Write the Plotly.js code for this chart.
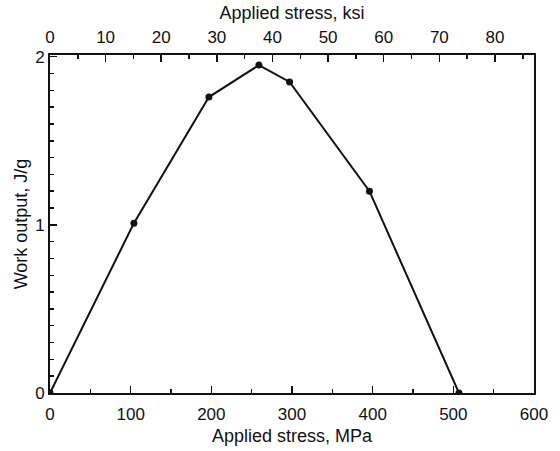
<!DOCTYPE html>
<html>
<head>
<meta charset="utf-8">
<script src="https://cdn.plot.ly/plotly-3.0.1.min.js"></script>
<style>html,body{margin:0;padding:0;background:#fff;}#chart{width:560px;height:451px;}</style>
</head>
<body>
<div id="chart"></div>
<script>
// Data
var stressMPa = [0, 104, 197, 259, 297, 396, 507];
var workJg = [0, 1.01, 1.76, 1.95, 1.85, 1.20, 0];
var MPA_PER_KSI = 6.895;
var mpaRange = [0, 600];
var ksiTicks = [0, 10, 20, 30, 40, 50, 60, 70, 80];
var mpaTicks = [0, 100, 200, 300, 400, 500, 600];
var workTicks = [0, 1, 2];

var ink = '#111111';
var fontFam = 'Liberation Sans, Arial, sans-serif';
var tickSize = 17, titleSize = 18;

var traces = [
  {
    x: stressMPa, y: workJg, type: 'scatter', mode: 'lines+markers',
    line: {color: ink, width: 2},
    marker: {color: ink, size: 7},
    hoverinfo: 'skip', showlegend: false
  },
  {
    x: stressMPa.map(function(s){return s / MPA_PER_KSI;}), y: workJg,
    xaxis: 'x2', yaxis: 'y', type: 'scatter', mode: 'lines',
    line: {width: 0, color: 'rgba(0,0,0,0)'}, hoverinfo: 'skip', showlegend: false
  }
];

var layout = {
  width: 560, height: 451,
  margin: {l: 50, r: 26, t: 55, b: 58},
  paper_bgcolor: '#fff', plot_bgcolor: '#fff',
  font: {family: fontFam, size: tickSize, color: ink},
  showlegend: false,
  xaxis: {
    range: mpaRange, tickvals: mpaTicks, ticktext: mpaTicks.map(String),
    ticks: 'inside', ticklen: 7, tickwidth: 1.5, tickcolor: ink,
    minor: {ticks: 'inside', dtick: 50, ticklen: 4, tickwidth: 1.5, tickcolor: ink, showgrid: false},
    showline: true, linecolor: ink, linewidth: 2, mirror: true,
    showgrid: false, zeroline: false,
    ticklabelstandoff: 5,
    tickfont: {size: tickSize, family: fontFam, color: ink},
    title: {text: 'Applied stress, MPa', font: {size: titleSize, family: fontFam, color: ink}, standoff: 6}
  },
  xaxis2: {
    overlaying: 'x', side: 'top', anchor: 'y',
    range: [mpaRange[0] / MPA_PER_KSI, mpaRange[1] / MPA_PER_KSI],
    tickvals: ksiTicks, ticktext: ksiTicks.map(String),
    ticks: 'inside', ticklen: 7, tickwidth: 1.5, tickcolor: ink,
    minor: {ticks: 'inside', dtick: 5, ticklen: 4, tickwidth: 1.5, tickcolor: ink, showgrid: false},
    showline: true, linecolor: ink, linewidth: 2,
    showgrid: false, zeroline: false,
    ticklabelstandoff: 3,
    tickfont: {size: tickSize, family: fontFam, color: ink},
    title: {text: 'Applied stress, ksi', font: {size: titleSize, family: fontFam, color: ink}, standoff: 4}
  },
  yaxis: {
    range: [0, 2.01], tickvals: workTicks, ticktext: workTicks.map(String),
    ticks: 'inside', ticklen: 7, tickwidth: 1.5, tickcolor: ink,
    minor: {ticks: 'inside', dtick: 0.1, ticklen: 4, tickwidth: 1.5, tickcolor: ink, showgrid: false},
    showline: true, linecolor: ink, linewidth: 2, mirror: true,
    showgrid: false, zeroline: false,
    tickfont: {size: tickSize, family: fontFam, color: ink},
    title: {text: 'Work output, J/g', font: {size: titleSize, family: fontFam, color: ink}, standoff: 3}
  }
};

Plotly.newPlot('chart', traces, layout, {displayModeBar: false, staticPlot: true});
</script>
</body>
</html>
